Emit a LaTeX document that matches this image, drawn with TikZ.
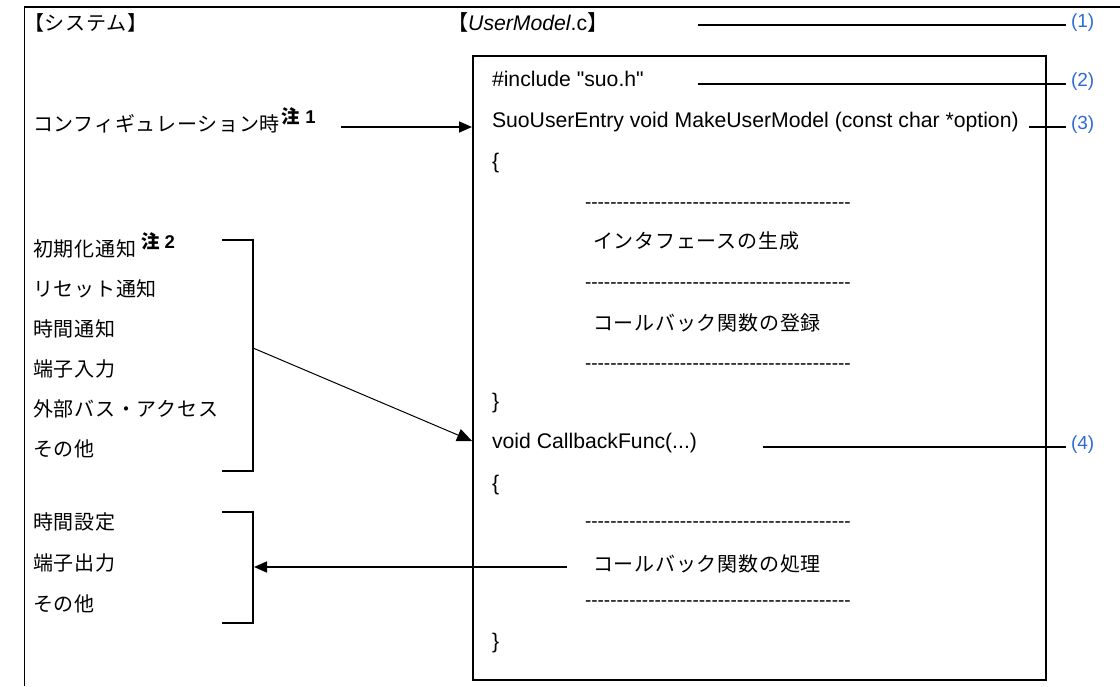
\documentclass[tikz,border=0pt]{standalone}
\usepackage{fontspec}
\setmainfont{Liberation Sans}
\newfontfamily\plainf{Liberation Sans}
\newfontfamily\jp{Noto Sans CJK JP}[LetterSpace=4]
\usetikzlibrary{arrows.meta}
\definecolor{lblue}{RGB}{45,105,215}
\begin{document}
\begin{tikzpicture}[x=1pt,y=-1pt,
  txt/.style={anchor=west,inner sep=0pt,outer sep=0pt,text height=15pt,text depth=4pt,font=\fontsize{21.2}{24}\selectfont},
  jtxt/.style={txt,font=\fontsize{20}{22}\selectfont\jp},
  dashrow/.style={txt,font=\fontsize{19}{22}\selectfont\plainf},
  frame/.style={line width=1.8pt},
  lead/.style={line width=1.7pt},
  arr/.style={line width=1.7pt,-{Triangle[length=13pt,width=11pt]}},
  arrthin/.style={line width=1pt,-{Triangle[length=15pt,width=13pt]}},
  num/.style={anchor=west,inner xsep=5pt,inner ysep=0pt,outer sep=0pt,text=lblue,font=\fontsize{19}{22}\selectfont\plainf}]
\useasboundingbox (0,0) rectangle (1120,686);
\newcommand\dashtext{------------------------------------------}
\newcommand\chu[1]{\raisebox{8pt}{\fontsize{18.5}{18}\selectfont\bfseries 注\kern5pt{\rmfamily\bfseries #1}}}

% outer frame
\draw[frame] (24.5,686) -- (24.5,7) -- (1120,7);

% code box
\node[draw,frame,minimum width=573pt,minimum height=624pt,anchor=north west,inner sep=0pt] (box) at (472,55) {};

% headers
\node[jtxt] (sys) at (24,25) {【システム】};
\node[txt] (um) at (447,25) {{\jp 【}{\itshape UserModel}.c{\jp 】}};

% left column
\node[jtxt] (cfg) at (33,126) {コンフィギュレーション時\kern2pt\chu{1}};
\node[jtxt] (ini) at (33,251) {初期化通知\kern5pt\chu{2}};
\node[jtxt] (rst) at (33,291) {リセット通知};
\node[jtxt] (tim) at (33,331) {時間通知};
\node[jtxt] (pin) at (33,371) {端子入力};
\node[jtxt] (ext) at (33,411) {外部バス・アクセス};
\node[jtxt] (oth) at (33,451) {その他};
\node[jtxt] (tset) at (33,524) {時間設定};
\node[jtxt] (pout) at (33,565) {端子出力};
\node[jtxt] (oth2) at (33,606) {その他};

% code lines
\node[txt,font=\fontsize{21.2}{24}\selectfont\plainf] (inc) at (492,81) {\#include "suo.h"};
\node[txt] (suo) at (492,122) {SuoUserEntry void MakeUserModel (const char *option)};
\node[txt] (ob1) at (492,163) {\{};
\node[dashrow] (d1) at (585,203) {\dashtext};
\node[jtxt] (ifc) at (593,243) {インタフェースの生成};
\node[dashrow] (d2) at (585,283) {\dashtext};
\node[jtxt] (reg) at (593,325) {コールバック関数の登録};
\node[dashrow] (d3) at (585,364) {\dashtext};
\node[txt] (cb1) at (492,403) {\}};
\node[txt] (cbf) at (492,443) {void CallbackFunc(...)};
\node[txt] (ob2) at (492,485) {\{};
\node[dashrow] (d4) at (585,522) {\dashtext};
\node[jtxt] (proc) at (593,566) {コールバック関数の処理};
\node[dashrow] (d5) at (585,601) {\dashtext};
\node[txt] (cb2) at (492,643) {\}};

% number labels
\node[num] (n1) at (1066,23) {(1)};
\node[num] (n2) at (1066,82) {(2)};
\node[num] (n3) at (1066,125) {(3)};
\node[num] (n4) at (1066,445) {(4)};

% leader lines
\coordinate (l1) at (698,25);
\coordinate (l2) at (698,84);
\coordinate (l3) at (1029,127);
\coordinate (l4) at (763,447);
\draw[lead] (l1) -- (l1 -| n1.west);
\draw[lead] (l2) -- (l2 -| n2.west);
\draw[lead] (l3) -- (l3 -| n3.west);
\draw[lead] (l4) -- (l4 -| n4.west);

% brackets
\draw[frame] (222,240) -- (253,240) -- (253,471) -- (222,471);
\draw[frame] (222,512) -- (253,512) -- (253,623) -- (222,623);

% arrows
\coordinate (ca) at (341,127);
\draw[arr] (ca) -- (ca -| box.west);
\coordinate (b1) at (253,348);
\coordinate (b1e) at (472,441);
\draw[arrthin] (b1) -- (b1e -| box.west);
\coordinate (pa) at (567,567);
\coordinate (b2) at (254,567);
\draw[arr] (pa) -- (b2);
\end{tikzpicture}
\end{document}
